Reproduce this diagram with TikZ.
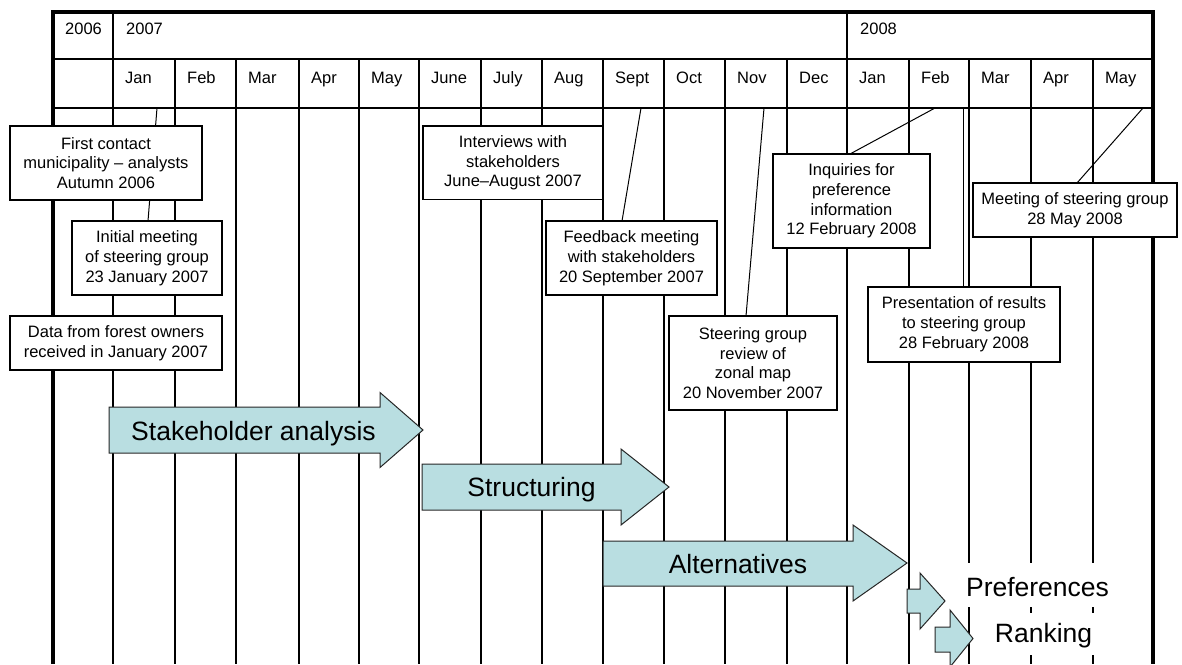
\documentclass[tikz,border=0pt]{standalone}
\usepackage{fontspec}
\setmainfont{Liberation Sans}
\definecolor{procfill}{RGB}{185,222,225}
\newcommand\evfont{\fontsize{16.5}{19.8}\selectfont}
\newcommand\procfont{\fontsize{26.5}{30}\selectfont}
\begin{document}
\begin{tikzpicture}[x=1pt,y=-1pt,
  gridline/.style={line width=1.4pt},
  frameline/.style={line width=3.5pt, line join=miter},
  leader/.style={line width=1pt},
  evbox/.style={draw, fill=white, line width=1.2pt, align=center, inner sep=0pt, font=\evfont},
  headlabel/.style={anchor=base west, inner sep=0pt, font=\evfont},
  procarrow/.style={draw=black!85, fill=procfill, line width=1pt, line join=miter},
  proclabel/.style={anchor=base, inner sep=0pt, font=\procfont},
  blank/.style={fill=white}]

\useasboundingbox (0,0) rectangle (1182,664);

% ---- grid ----
\draw[gridline] (53,59) -- (1153,59);
\draw[gridline] (53,108) -- (1153,108);
\draw[gridline] (113,12) -- (113,664);
\draw[gridline] (847,12) -- (847,664);
\foreach \x in {175,236,299,359,419,481,542,603,664,725,787,909,969,1031,1093}
  \draw[gridline] (\x,59) -- (\x,664);
\draw[frameline] (53,664) -- (53,12) -- (1153,12) -- (1153,664);

% ---- header labels ----
\node[headlabel] (y2006) at (65,34) {2006};
\node[headlabel] (y2007) at (126,34) {2007};
\node[headlabel] (y2008) at (860,34) {2008};
\foreach \x/\m/\n in {113/Jan/ma,175/Feb/mb,236/Mar/mc,299/Apr/md,359/May/me,419/June/mf,
  481/July/mg,542/Aug/mh,603/Sept/mi,664/Oct/mj,725/Nov/mk,787/Dec/ml,
  847/Jan/mm,909/Feb/mn,969/Mar/mo,1031/Apr/mp,1093/May/mq}
  \node[headlabel] (\n) at ({\x+12},83) {\m};

% ---- leader lines ----
\coordinate (imS) at (157,108); \coordinate (imE) at (148,221);
\coordinate (fbS) at (641,108); \coordinate (fbE) at (622,221);
\coordinate (sgS) at (764,108); \coordinate (sgE) at (746,316);
\coordinate (iqS) at (935,108); \coordinate (iqE) at (850,154);
\coordinate (msS) at (1143,108); \coordinate (msE) at (1077,183);
\coordinate (prS) at (963,108); \coordinate (prE) at (963,287);
\draw[leader] (imS) -- (imE);
\draw[leader] (fbS) -- (fbE);
\draw[leader] (sgS) -- (sgE);
\draw[leader] (iqS) -- (iqE);
\draw[leader] (msS) -- (msE);
\draw[leader] (prS) -- (prE);

% ---- event boxes ----
\node[evbox, minimum width=192pt, minimum height=74pt] (fc) at (106,163)
  {First contact\\municipality – analysts\\Autumn 2006};
\node[evbox, minimum width=150pt, minimum height=74pt] (im) at (147,258)
  {Initial meeting\\of steering group\\23 January 2007};
\node[evbox, minimum width=212pt, minimum height=54pt] (df) at (116,343)
  {Data from forest owners\\received in January 2007};
\node[evbox, minimum width=180pt, minimum height=73.5pt] (iv) at (513,162.75)
  {Interviews with\\stakeholders\\June–August 2007};
\node[evbox, minimum width=171pt, minimum height=74pt] (fb) at (631.5,258)
  {Feedback meeting\\with stakeholders\\20 September 2007};
\node[evbox, minimum width=168pt, minimum height=94pt] (sg) at (753,363)
  {Steering group\\review of\\zonal map\\20 November 2007};
\node[evbox, minimum width=157pt, minimum height=94pt] (iq) at (851.5,201)
  {Inquiries for\\preference\\information\\12 February 2008};
\node[evbox, minimum width=204pt, minimum height=54pt] (ms) at (1075,210)
  {Meeting of steering group\\28 May 2008};
\node[evbox, minimum width=192pt, minimum height=75pt] (pr) at (964,324.5)
  {Presentation of results\\to steering group\\28 February 2008};

% ---- white backgrounds for last labels ----
\fill[blank] (965,563) rectangle (1112,607);
\fill[blank] (975,613) rectangle (1112,655);

% ---- process arrows ----
\draw[procarrow] (109,407) -- (380,407) -- (380,392.5) -- (423,430) -- (380,467.5) -- (380,453) -- (109,453) -- cycle;
\draw[procarrow] (422,464) -- (621,464) -- (621,449) -- (669,487) -- (621,525) -- (621,510) -- (422,510) -- cycle;
\draw[procarrow] (603,541) -- (853,541) -- (853,525) -- (907,563) -- (853,601) -- (853,586) -- (603,586) -- cycle;
\draw[procarrow] (907,589) -- (920,589) -- (920,573) -- (945,601) -- (920,629) -- (920,613) -- (907,613) -- cycle;
\draw[procarrow] (935,627) -- (950,627) -- (950,610) -- (973,638.5) -- (950,667) -- (950,652) -- (935,652) -- cycle;

% ---- process labels ----
\node[proclabel] (pa) at (253.5,440) {Stakeholder analysis};
\node[proclabel] (pb) at (531.5,496.5) {Structuring};
\node[proclabel] (pc) at (738,573.3) {Alternatives};
\node[proclabel] (pd) at (1037.5,596.7) {Preferences};
\node[proclabel] (pe) at (1043.5,642.3) {Ranking};
\end{tikzpicture}
\end{document}
